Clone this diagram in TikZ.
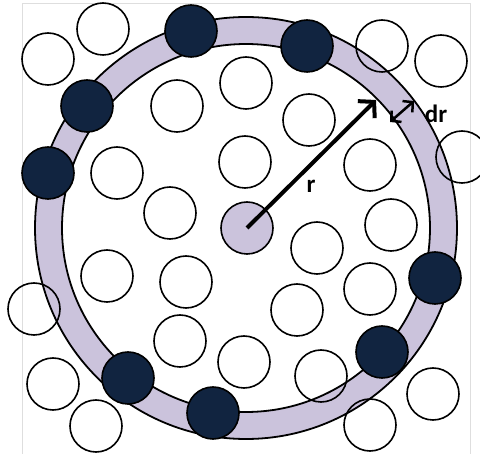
\documentclass[tikz,border=0pt]{standalone}
\usepackage{fontspec}
\setmainfont{Carlito}
\usetikzlibrary{arrows.meta}
\definecolor{navy}{RGB}{17,36,64}
\definecolor{lav}{RGB}{203,195,220}
\definecolor{framegray}{RGB}{222,222,222}
\tikzset{
  wc/.style={circle,draw=black,line width=1.6pt,minimum size=52pt,inner sep=0pt},
  dc/.style={circle,draw=black,fill=navy,line width=1.6pt,minimum size=52pt,inner sep=0pt},
  cc/.style={circle,draw=black,fill=lav,line width=1.6pt,minimum size=52pt,inner sep=0pt},
  lbl/.style={font=\fontsize{25}{25}\selectfont\bfseries,inner sep=0pt},
}
\begin{document}
\begin{tikzpicture}[x=1pt,y=-1pt]
\useasboundingbox (0,0) rectangle (480,454);
% frame
\draw[framegray,line width=1pt] (22,460) -- (22,4) -- (470,4) -- (470,460);
% ring
\fill[lav,even odd rule] (246,228) circle[radius=211] (246,228) circle[radius=184];
\draw[black,line width=1.8pt] (246,228) circle[radius=211];
\draw[black,line width=1.8pt] (246,228) circle[radius=184];
% centre particle
\node[cc] (c) at (247,228) {};
% white particles
\node[wc] (w1) at (48,59) {};
\node[wc] (w2) at (103,29) {};
\node[wc] (w3) at (382,46) {};
\node[wc] (w4) at (441,61) {};
\node[wc] (w5) at (177,106) {};
\node[wc] (w6) at (246,83) {};
\node[wc] (w7) at (309,120) {};
\node[wc] (w8) at (117,173) {};
\node[wc] (w9) at (245,162) {};
\node[wc] (w10) at (370,165) {};
\node[wc] (w11) at (462,157) {};
\node[wc] (w12) at (170,213) {};
\node[wc] (w13) at (391,225) {};
\node[wc] (w14) at (107,276) {};
\node[wc] (w15) at (186,282) {};
\node[wc] (w16) at (317,248) {};
\node[wc] (w17) at (370,289) {};
\node[wc] (w18) at (297,310) {};
\node[wc] (w19) at (34,309) {};
\node[wc] (w20) at (180,341) {};
\node[wc] (w21) at (244,362) {};
\node[wc] (w22) at (321,376) {};
\node[wc] (w23) at (53,384) {};
\node[wc] (w24) at (96,426) {};
\node[wc] (w25) at (370,425) {};
\node[wc] (w26) at (433,394) {};
% dark particles on the shell
\node[dc] (d1) at (191,31) {};
\node[dc] (d2) at (87,106) {};
\node[dc] (d3) at (48,173) {};
\node[dc] (d4) at (307,46) {};
\node[dc] (d5) at (435,278) {};
\node[dc] (d6) at (382,352) {};
\node[dc] (d7) at (128,378) {};
\node[dc] (d8) at (213,413) {};
% arrows
\coordinate (rtip) at (376,100);
\draw[line width=4pt,-{Straight Barb[length=11pt,width=24pt,line width=4pt]}] (c.center) -- (rtip);
\coordinate (dra) at (390,122);
\coordinate (drb) at (414,101);
\draw[line width=2.5pt,{Straight Barb[length=7pt,width=15pt,line width=2.5pt]}-{Straight Barb[length=7pt,width=15pt,line width=2.5pt]}] (dra) -- (drb);
\node[lbl] (rl) at (311,186) {r};
\node[lbl] (drl) at (436,114) {dr};
\end{tikzpicture}
\end{document}
